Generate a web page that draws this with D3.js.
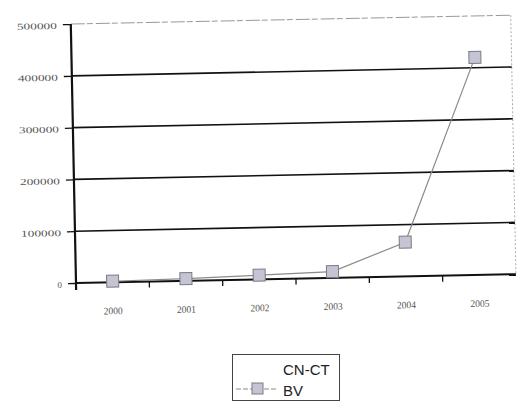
<!DOCTYPE html>
<html>
<head>
<meta charset="utf-8">
<script src="https://cdn.jsdelivr.net/npm/d3@7"></script>
<style>
  html, body { margin: 0; padding: 0; background: #fff; }
  svg { display: block; }
</style>
</head>
<body>
<svg id="chart" width="517" height="403"></svg>
<script>
// Yearly values of the CN-CT BV series
const years = ["2000", "2001", "2002", "2003", "2004", "2005"];
const values = [2000, 4000, 8000, 12000, 66000, 420000];
const yTicks = [0, 100000, 200000, 300000, 400000, 500000];
const seriesLines = ["CN-CT", "BV"];

const svg = d3.select("#chart");

// Plot frame, slightly tilted as in a scanned page
const ox = 76, oy = 283, W = 440, H = 259;
const g = svg.append("g").attr("transform", `rotate(-1.15, ${ox}, ${oy}) translate(${ox}, ${oy - H})`);

const x = d3.scaleBand().domain(years).range([0, W]);
const y = d3.scaleLinear().domain([0, 500000]).range([H, 0]);

// Plot area border: light broken top and right edges
g.append("line").attr("x1", 0).attr("x2", W).attr("y1", y(500000)).attr("y2", y(500000))
  .attr("stroke", "#999").attr("stroke-width", 1).attr("stroke-dasharray", "14,2,6,3");
g.append("line").attr("x1", W).attr("x2", W).attr("y1", y(500000)).attr("y2", H)
  .attr("stroke", "#aaa").attr("stroke-width", 1).attr("stroke-dasharray", "2,2");

// Horizontal gridlines
g.append("g").selectAll("line").data(yTicks.filter(d => d > 0 && d < 500000)).join("line")
  .attr("x1", 0).attr("x2", W).attr("y1", d => y(d)).attr("y2", d => y(d))
  .attr("stroke", "#111").attr("stroke-width", 1.6);

// Y axis
const yAxis = g.append("g").call(d3.axisLeft(y).tickValues(yTicks).tickSize(8).tickPadding(6).tickFormat(d3.format("d")));
yAxis.select(".domain").attr("stroke", "#111").attr("stroke-width", 2.2).attr("d", `M0,${y(500000)}V${H + 7}`);
yAxis.selectAll(".tick line").attr("stroke", "#111").attr("stroke-width", 1.3);
yAxis.selectAll(".tick text")
  .attr("font-family", "'Liberation Serif', serif").attr("font-size", 9).attr("fill", "#555")
  .attr("dy", "0.45em")
  .each(function(d) {
    if (d > 0) d3.select(this).attr("textLength", 40).attr("lengthAdjust", "spacingAndGlyphs");
  });

// X axis with ticks between categories
const xAxis = g.append("g").attr("transform", `translate(0, ${H})`);
xAxis.append("line").attr("x1", 0).attr("x2", W).attr("stroke", "#111").attr("stroke-width", 2);
xAxis.selectAll("line.tk").data(years.slice(1)).join("line").attr("class", "tk")
  .attr("x1", d => x(d)).attr("x2", d => x(d)).attr("y1", 0).attr("y2", 6)
  .attr("stroke", "#111").attr("stroke-width", 1.3);
xAxis.selectAll("text").data(years).join("text")
  .attr("x", d => x(d) + x.bandwidth() / 2).attr("y", 32)
  .attr("text-anchor", "middle")
  .attr("font-family", "'Liberation Serif', serif").attr("font-size", 10).attr("fill", "#555")
  .attr("textLength", 19).attr("lengthAdjust", "spacingAndGlyphs")
  .text(d => d);

// Series line and markers
const cx = (d, i) => x(years[i]) + x.bandwidth() / 2;
const line = d3.line().x((d, i) => cx(d, i)).y(d => y(d));
g.append("path").datum(values).attr("d", line)
  .attr("fill", "none").attr("stroke", "#8a8a8a").attr("stroke-width", 1.2);
g.append("g").selectAll("rect").data(values).join("rect")
  .attr("x", (d, i) => cx(d, i) - 6).attr("y", d => y(d) - 6)
  .attr("width", 12).attr("height", 12)
  .attr("fill", "#c4c4d2").attr("stroke", "#7a7a86").attr("stroke-width", 1);

// Legend
const lg = svg.append("g");
lg.append("rect").attr("x", 232.5).attr("y", 354.5).attr("width", 107).attr("height", 46)
  .attr("fill", "#fff").attr("stroke", "#444").attr("stroke-width", 1);
lg.append("line").attr("x1", 236).attr("x2", 278).attr("y1", 389).attr("y2", 389)
  .attr("stroke", "#8a8a8a").attr("stroke-width", 1.2).attr("stroke-dasharray", "5,2");
lg.append("rect").attr("x", 252).attr("y", 383).attr("width", 11).attr("height", 11)
  .attr("fill", "#c4c4d2").attr("stroke", "#7a7a86").attr("stroke-width", 1);
lg.selectAll("text").data(seriesLines).join("text")
  .attr("x", 283).attr("y", (d, i) => 375 + i * 21)
  .attr("font-family", "'Liberation Sans', Arial, sans-serif").attr("font-size", 15).attr("fill", "#222")
  .text(d => d);
</script>
</body>
</html>
